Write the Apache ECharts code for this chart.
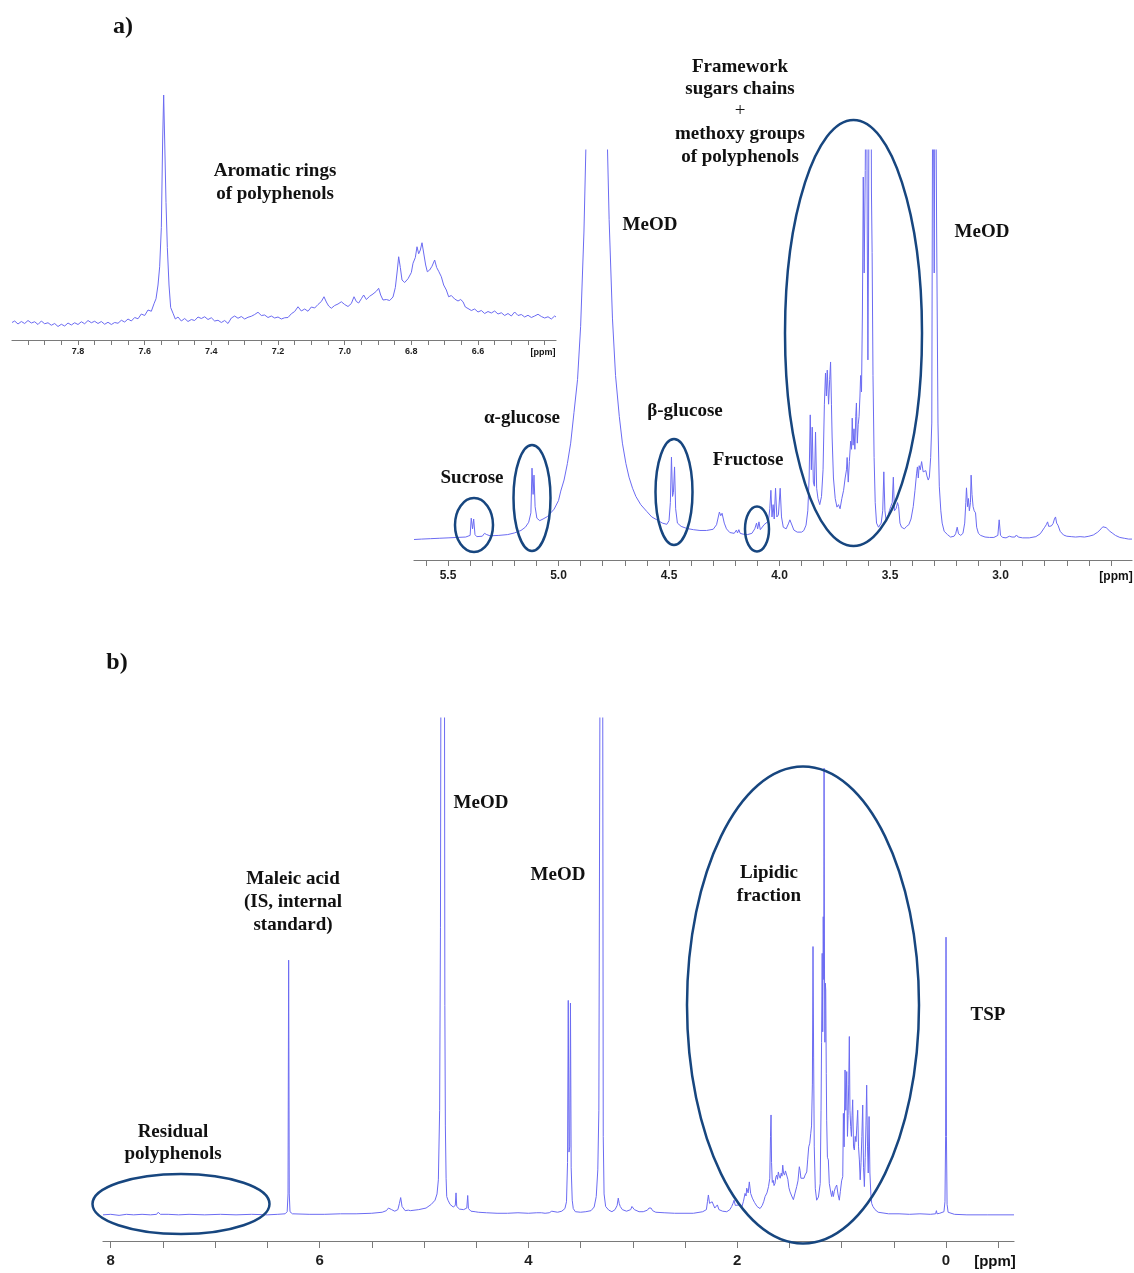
<!DOCTYPE html>
<html>
<head>
<meta charset="utf-8">
<script src="https://cdn.jsdelivr.net/npm/echarts@6.0.0/dist/echarts.min.js"></script>
<style>
html, body { margin: 0; padding: 0; background: #fff; }
#chart { width: 1134px; height: 1273px; }
</style>
</head>
<body>
<div id="chart"></div>
<script>
// inset: aromatic region, [ppm, intensity]
var insetSpec = [
 [7.998,7.0],[7.99,7.6],[7.98,6.4],[7.97,7.4],[7.96,6.6],[7.95,7.8],[7.94,6.8],[7.93,7.3],[7.92,6.2],[7.91,7.6],
 [7.90,6.5],[7.89,6.9],[7.88,5.9],[7.87,6.6],[7.86,5.4],[7.85,6.3],[7.84,5.6],[7.83,6.8],[7.82,6.0],[7.81,6.9],
 [7.80,6.2],[7.79,7.3],[7.78,6.5],[7.77,7.8],[7.76,6.9],[7.75,7.5],[7.74,6.6],[7.73,7.4],[7.72,6.3],[7.71,7.1],
 [7.70,6.2],[7.69,7.0],[7.68,6.7],[7.67,7.9],[7.66,7.2],[7.65,8.4],[7.64,7.6],[7.63,9.0],[7.62,8.5],[7.61,10.4],
 [7.60,9.8],[7.59,12.0],[7.58,11.5],[7.572,14.5],[7.566,16.5],[7.56,22],[7.555,29.3],[7.55,45],[7.546,80],[7.543,98],
 [7.54,80],[7.536,55],[7.532,37],[7.527,22],[7.522,13],[7.515,10.7],[7.508,8.4],[7.50,9.2],[7.49,7.6],[7.48,8.6],
 [7.47,7.4],[7.46,8.2],[7.45,7.8],[7.44,9.2],[7.43,8.6],[7.42,9.3],[7.41,8.2],[7.40,8.9],[7.39,7.6],[7.38,7.9],
 [7.37,7.0],[7.36,7.8],[7.35,6.6],[7.34,8.8],[7.33,9.6],[7.32,8.7],[7.31,9.4],[7.30,8.4],[7.29,9.1],[7.28,9.5],
 [7.27,10.2],[7.26,11.1],[7.25,9.8],[7.24,10.0],[7.23,9.0],[7.22,9.6],[7.21,8.8],[7.20,9.2],[7.19,8.4],[7.18,8.9],
 [7.17,9.0],[7.16,10.5],[7.15,11.4],[7.14,13.3],[7.13,11.6],[7.12,12.4],[7.11,11.5],[7.10,13.2],[7.09,12.8],[7.08,14.2],
 [7.07,15.4],[7.062,17.3],[7.055,15.2],[7.048,13.6],[7.04,12.7],[7.03,13.8],[7.02,14.4],[7.01,15.3],[7.00,14.2],[6.99,13.4],
 [6.98,14.6],[6.972,17.3],[6.965,15.4],[6.958,14.8],[6.95,16.5],[6.943,18.0],[6.935,16.2],[6.925,17.5],[6.915,18.4],[6.905,19.5],
 [6.898,20.7],[6.892,18],[6.885,16.0],[6.875,16.2],[6.865,15.8],[6.855,17.2],[6.848,21],[6.842,28],[6.838,33.3],[6.833,29],
 [6.828,24],[6.82,23],[6.81,24.5],[6.80,27],[6.795,30.7],[6.788,33],[6.783,37.3],[6.778,34.5],[6.773,36],[6.768,38.9],
 [6.762,34],[6.757,30],[6.752,27.3],[6.745,28],[6.738,29.5],[6.73,32],[6.724,29],[6.718,27.5],[6.71,25.3],[6.703,22],
 [6.695,20],[6.688,17.3],[6.68,17.8],[6.67,16.4],[6.66,15.6],[6.652,16.2],[6.645,15.3],[6.638,13.2],[6.63,12.6],[6.62,11.8],
 [6.61,12.4],[6.60,11.2],[6.59,11.8],[6.58,10.6],[6.57,11.4],[6.56,10.8],[6.55,11.6],[6.54,10.4],[6.53,10.9],[6.52,9.8],
 [6.51,10.6],[6.50,9.6],[6.49,11.2],[6.48,9.8],[6.47,10.2],[6.46,9.2],[6.45,9.9],[6.44,9.0],[6.43,9.6],[6.42,10.3],
 [6.41,9.4],[6.40,8.8],[6.39,9.3],[6.38,8.4],[6.37,9.6],[6.366,9.2]
];

// panel a: sugar region
var specA = [
 [5.654,5.0],[5.62,5.1],[5.58,5.2],[5.54,5.3],[5.50,5.4],[5.46,5.5],[5.42,5.6],[5.40,6.0],[5.395,10.2],[5.389,7.6],
 [5.384,10.0],[5.378,6.2],[5.37,5.7],[5.345,5.8],[5.335,6.5],[5.325,6.2],[5.31,5.9],[5.27,6.0],[5.23,6.2],[5.20,6.6],
 [5.17,7.2],[5.15,8.0],[5.135,9.2],[5.125,11.5],[5.12,22.4],[5.115,16.0],[5.111,20.7],[5.106,13.0],[5.098,10.2],[5.085,9.6],
 [5.07,10.0],[5.05,10.6],[5.035,11.5],[5.02,12.4],[5.00,14.5],[4.99,16.8],[4.975,19.5],[4.96,23.5],[4.945,28.5],[4.93,36],
 [4.914,44],[4.90,57],[4.885,80],[4.87,115],[4.85,200],[4.828,300],[4.80,170],[4.786,118],[4.771,83],[4.756,59],
 [4.742,45],[4.725,35],[4.711,28.5],[4.695,23.5],[4.681,20.2],[4.665,17.5],[4.65,15.5],[4.628,13.5],[4.60,11.8],[4.578,10.5],
 [4.555,9.8],[4.53,9.0],[4.51,8.7],[4.50,9.6],[4.494,14],[4.489,25.1],[4.484,15.5],[4.480,16.5],[4.475,22.7],[4.470,12.5],
 [4.462,9.0],[4.445,8.2],[4.42,7.7],[4.39,7.4],[4.36,7.2],[4.33,7.2],[4.30,7.5],[4.285,8.6],[4.272,11.7],[4.266,10.8],
 [4.26,11.4],[4.25,9.0],[4.24,7.6],[4.225,6.7],[4.205,6.5],[4.195,7.3],[4.19,6.6],[4.184,7.4],[4.178,6.5],[4.165,6.3],
 [4.145,6.2],[4.125,6.5],[4.112,7.6],[4.104,9.0],[4.099,7.6],[4.093,9.3],[4.087,7.4],[4.078,7.0],[4.07,8.6],[4.062,8.8],
 [4.05,9.5],[4.044,12.5],[4.039,17.0],[4.034,10.5],[4.029,13.5],[4.024,10.0],[4.018,17.5],[4.012,10.5],[4.005,11.0],[3.997,17.5],
 [3.991,10.5],[3.983,8.0],[3.97,7.6],[3.96,8.8],[3.953,9.8],[3.945,9.4],[3.935,7.3],[3.92,6.8],[3.90,6.8],[3.89,7.2],
 [3.88,8.5],[3.872,12],[3.866,20],[3.861,35.4],[3.856,22],[3.852,32.4],[3.847,19],[3.842,18],[3.837,31.2],[3.832,17.5],
 [3.826,15],[3.818,13.5],[3.81,15.5],[3.803,22],[3.797,38],[3.792,45.6],[3.788,40],[3.784,46.3],[3.778,38],[3.773,44],
 [3.769,48.3],[3.765,38],[3.762,30],[3.756,20],[3.748,15],[3.74,12.9],[3.733,13.5],[3.726,12.5],[3.718,15],[3.71,17],
 [3.703,20],[3.697,22],[3.694,25],[3.689,19],[3.684,24],[3.678,29],[3.674,27],[3.671,34.6],[3.667,28],[3.663,32],
 [3.659,27],[3.655,35],[3.652,38.3],[3.648,28.5],[3.644,33],[3.64,35],[3.636,40],[3.633,45],[3.629,41],[3.625,60],
 [3.621,93.4],[3.617,70],[3.612,95],[3.607,140],[3.603,80],[3.600,48.8],[3.597,80],[3.594,140],[3.590,130],[3.587,140],
 [3.584,90],[3.581,75],[3.577,45],[3.572,25],[3.567,14],[3.561,9],[3.552,8],[3.54,9],[3.533,12],[3.528,21.5],
 [3.523,12],[3.518,9.8],[3.51,10.5],[3.503,12],[3.497,13],[3.49,14],[3.485,20.2],[3.48,12],[3.472,12.6],[3.466,14],
 [3.461,13],[3.455,9],[3.448,8],[3.435,7.6],[3.425,8.2],[3.415,8.6],[3.405,10],[3.395,13],[3.387,17],[3.38,21],
 [3.376,22.7],[3.372,20],[3.368,23],[3.363,22],[3.357,24],[3.354,24.4],[3.35,21.5],[3.344,21.2],[3.338,21.8],[3.333,20.5],
 [3.327,19.5],[3.322,20.2],[3.316,25],[3.311,33.4],[3.306,140],[3.300,70],[3.295,140],[3.289,80],[3.283,33.4],[3.277,18],
 [3.27,12],[3.264,9],[3.255,7],[3.24,6.2],[3.226,5.6],[3.21,5.8],[3.203,6.4],[3.196,8.0],[3.19,6.4],[3.18,6.0],
 [3.17,6.5],[3.162,9],[3.157,14],[3.154,17.6],[3.149,13],[3.145,15],[3.141,12],[3.136,14],[3.133,20.7],[3.129,16],
 [3.124,13],[3.119,12],[3.113,11.5],[3.108,8],[3.10,6.5],[3.09,6.0],[3.07,5.6],[3.05,5.5],[3.03,5.5],[3.012,6.0],
 [3.006,9.8],[3.0,6.0],[2.99,5.5],[2.975,5.4],[2.96,5.8],[2.955,6.0],[2.948,5.6],[2.935,5.6],[2.928,6.1],[2.92,5.6],
 [2.90,5.4],[2.87,5.4],[2.84,5.7],[2.82,6.4],[2.80,8.0],[2.793,8.6],[2.787,9.3],[2.782,8.2],[2.776,8.6],[2.77,8.3],
 [2.762,8.9],[2.756,10.0],[2.751,10.5],[2.746,9.0],[2.74,8.5],[2.73,7.0],[2.715,6.1],[2.70,5.8],[2.68,5.7],[2.66,5.6],
 [2.64,5.7],[2.62,5.6],[2.60,5.8],[2.58,6.1],[2.56,6.8],[2.545,7.6],[2.537,8.1],[2.533,7.8],[2.528,8.5],[2.522,7.9],
 [2.515,7.7],[2.505,7.0],[2.495,6.6],[2.48,6.0],[2.46,5.5],[2.44,5.3],[2.42,5.1],[2.405,5.1]
];

// panel b: full spectrum
var specB = [
 [8.074,5.0],[8.0,5.1],[7.92,4.9],[7.85,5.1],[7.78,5.0],[7.70,5.1],[7.62,5.0],[7.56,5.1],[7.545,5.5],[7.535,5.6],
 [7.525,5.1],[7.45,5.1],[7.35,5.0],[7.25,5.1],[7.10,5.0],[6.95,5.1],[6.80,5.0],[6.65,5.1],[6.50,5.0],[6.40,5.1],
 [6.33,5.2],[6.31,5.6],[6.302,9],[6.296,53.7],[6.29,9],[6.283,5.6],[6.26,5.2],[6.10,5.1],[5.95,5.1],[5.80,5.2],
 [5.65,5.2],[5.50,5.3],[5.40,5.5],[5.36,5.8],[5.34,6.3],[5.325,6.6],[5.31,6.0],[5.28,5.7],[5.25,6.0],[5.235,7.2],
 [5.223,8.3],[5.21,6.6],[5.18,5.8],[5.15,5.9],[5.14,6.2],[5.13,5.8],[5.05,6.0],[4.98,6.3],[4.93,7.0],[4.894,7.8],
 [4.875,9.0],[4.862,11.7],[4.85,25],[4.842,60],[4.835,140],[4.805,140],[4.80,45],[4.795,22],[4.788,12],[4.782,8.5],
 [4.77,7.8],[4.75,7.0],[4.72,6.5],[4.70,6.8],[4.693,9.2],[4.686,6.6],[4.66,6.1],[4.62,6.0],[4.59,6.3],[4.581,8.7],
 [4.574,6.2],[4.55,5.7],[4.51,5.6],[4.495,5.9],[4.48,5.5],[4.40,5.4],[4.30,5.3],[4.20,5.3],[4.10,5.4],[4.00,5.3],
 [3.92,5.4],[3.875,5.4],[3.857,5.7],[3.84,5.3],[3.80,5.4],[3.776,5.7],[3.76,5.4],[3.72,5.5],[3.68,5.7],[3.65,6.2],
 [3.635,7.5],[3.625,15],[3.618,46],[3.611,17],[3.604,18],[3.597,45.5],[3.59,14],[3.58,7.8],[3.57,6.2],[3.55,5.6],
 [3.50,5.5],[3.45,5.6],[3.40,5.8],[3.37,6.5],[3.35,8.5],[3.335,13.6],[3.325,25],[3.31,140],[3.29,140],[3.283,20],
 [3.275,9],[3.26,6.6],[3.23,5.9],[3.20,5.6],[3.17,6.0],[3.15,6.8],[3.139,8.2],[3.13,7.2],[3.12,6.6],[3.10,6.0],
 [3.06,5.7],[3.02,6.0],[3.008,6.6],[3.0,6.3],[2.985,6.0],[2.97,5.9],[2.94,5.6],[2.90,5.6],[2.86,5.9],[2.845,6.3],
 [2.835,6.0],[2.825,6.3],[2.81,5.8],[2.78,5.5],[2.70,5.4],[2.60,5.3],[2.50,5.3],[2.42,5.3],[2.33,5.6],[2.295,6.0],
 [2.285,7.5],[2.276,8.8],[2.265,7.2],[2.254,6.9],[2.24,7.5],[2.229,7.2],[2.215,6.3],[2.205,6.4],[2.19,6.9],[2.175,6.0],
 [2.14,5.7],[2.10,5.6],[2.07,6.0],[2.053,6.6],[2.04,7.2],[2.03,7.8],[2.018,6.8],[2.005,6.6],[1.98,6.9],[1.957,6.4],
 [1.94,7.6],[1.925,9.1],[1.915,8.6],[1.909,10.1],[1.895,9.2],[1.884,11.3],[1.871,9.1],[1.855,8.2],[1.835,7.4],[1.81,6.6],
 [1.781,6.2],[1.76,6.8],[1.745,7.6],[1.733,8.5],[1.715,9.2],[1.70,10.4],[1.688,12],[1.681,20],[1.676,24.1],[1.671,15],
 [1.664,11.2],[1.655,11.6],[1.647,10.6],[1.638,11.0],[1.63,12.2],[1.622,12.6],[1.614,11.8],[1.606,13.2],[1.597,12.4],[1.588,12.0],
 [1.578,13.0],[1.571,12.4],[1.564,14.5],[1.556,13.0],[1.547,12.6],[1.538,13.4],[1.526,13.6],[1.515,11.8],[1.505,10.2],[1.494,9.4],
 [1.478,8.6],[1.462,7.9],[1.448,9.0],[1.43,10.4],[1.418,11.5],[1.405,14.2],[1.398,13.5],[1.39,12.0],[1.38,11.7],[1.373,12.3],
 [1.36,12.0],[1.35,12.6],[1.334,13.2],[1.325,15.5],[1.315,18],[1.305,18.7],[1.296,20.5],[1.288,22],[1.280,30],[1.274,56.3],
 [1.268,35],[1.262,18],[1.252,10],[1.239,7.8],[1.232,8.0],[1.222,8.4],[1.213,8.5],[1.205,11],[1.197,25],[1.192,38],
 [1.186,55],[1.181,40],[1.176,62],[1.171,50],[1.168,90.4],[1.164,52],[1.160,38],[1.156,49.3],[1.152,48],[1.147,32],
 [1.143,23.1],[1.136,16],[1.127,15.5],[1.118,11],[1.111,11],[1.103,9.2],[1.095,8.5],[1.087,9.6],[1.079,8.5],[1.07,9.5],
 [1.06,10.2],[1.047,10.7],[1.035,9.0],[1.022,7.8],[1.012,9.5],[1.0,11.5],[0.989,12.3],[0.983,24.4],[0.976,18],[0.967,32.7],
 [0.96,25],[0.951,32.4],[0.944,20],[0.938,24],[0.932,30],[0.926,39.1],[0.92,25],[0.913,21.9],[0.906,20],[0.9,24],
 [0.894,27],[0.886,18],[0.878,17.4],[0.87,20],[0.862,19],[0.854,22],[0.846,25],[0.838,18],[0.83,15.5],[0.822,11.7],
 [0.814,15],[0.806,20],[0.798,26],[0.79,14],[0.782,10.4],[0.774,16],[0.767,22],[0.76,29.8],[0.752,18],[0.745,13],
 [0.737,23.8],[0.729,13],[0.72,9],[0.712,7.2],[0.70,6.6],[0.69,6.8],[0.68,6.0],[0.67,5.9],[0.65,5.5],[0.632,5.3],
 [0.55,5.2],[0.45,5.2],[0.35,5.1],[0.25,5.2],[0.15,5.1],[0.10,5.2],[0.092,5.8],[0.086,5.2],[0.06,5.3],[0.02,5.6],
 [0.01,7.5],[0.004,20],[0.0,58.1],[-0.004,20],[-0.01,7],[-0.02,5.5],[-0.08,5.1],[-0.2,5.0],[-0.4,5.0],[-0.651,5.0]
];

// axis ticks and labels (ppm)
var insetTicks = [7.95,7.9,7.85,7.8,7.75,7.7,7.65,7.6,7.55,7.5,7.45,7.4,7.35,7.3,7.25,7.2,7.15,7.1,7.05,7.0,6.95,6.9,6.85,6.8,6.75,6.7,6.65,6.6,6.55,6.5,6.45,6.4];
var insetLabels = [7.8,7.6,7.4,7.2,7.0,6.8,6.6];
var aTicks = [5.6,5.5,5.4,5.3,5.2,5.1,5.0,4.9,4.8,4.7,4.6,4.5,4.4,4.3,4.2,4.1,4.0,3.9,3.8,3.7,3.6,3.5,3.4,3.3,3.2,3.1,3.0,2.9,2.8,2.7,2.6,2.5];
var aLabels = [5.5,5.0,4.5,4.0,3.5,3.0];
var bTicks = [8,7.5,7,6.5,6,5.5,5,4.5,4,3.5,3,2.5,2,1.5,1,0.5,0,-0.5];
var bLabels = [8,6,4,2,0];

var LINE_COLOR = '#6b6bf2';
var RING_COLOR = '#17467f';
var AXIS_COLOR = '#7a7a7a';
var SERIF = '"Liberation Serif", "Times New Roman", serif';
var SANS = '"Liberation Sans", Arial, sans-serif';

function makeXAxis(idx, min, max, ticks, labels, digits, fontSize, margin, tickLen){
    return {
        gridIndex: idx, type: 'value', min: min, max: max, inverse: true,
        axisLine: { show: true, onZero: false, lineStyle: { color: AXIS_COLOR, width: 1.2 } },
        axisTick: { show: true, customValues: ticks, length: tickLen, lineStyle: { color: AXIS_COLOR, width: 1 } },
        axisLabel: {
            customValues: labels, margin: margin,
            fontSize: fontSize, fontWeight: 'bold', fontFamily: SANS, color: '#1e1e1e',
            formatter: function(v){ return v.toFixed(digits); }
        },
        splitLine: { show: false }
    };
}

function makeYAxis(idx){
    return { gridIndex: idx, type: 'value', min: 0, max: 100, show: false };
}

function makeSeries(idx, data){
    return {
        type: 'line', xAxisIndex: idx, yAxisIndex: idx, data: data,
        showSymbol: false, symbol: 'none', clip: true, silent: true,
        lineStyle: { color: LINE_COLOR, width: 1 }
    };
}

/**
 * text label
 */
function txt(s, x, y, size, weight, family){
    return {
        type: 'text', z: 100,
        style: {
            text: s, x: x, y: y,
            font: (weight || 'bold') + ' ' + size + 'px ' + (family || SERIF),
            fill: '#111', textAlign: 'center', align: 'center',
            textVerticalAlign: 'middle', verticalAlign: 'middle'
        }
    };
}

function ring(cx, cy, rx, ry){
    return {
        type: 'ellipse', z: 100,
        shape: { cx: cx, cy: cy, rx: rx, ry: ry },
        style: { fill: 'none', stroke: RING_COLOR, lineWidth: 2.5 }
    };
}

var chart = echarts.init(document.getElementById('chart'), null, { renderer: 'canvas' });

chart.setOption({
    backgroundColor: '#fff',
    animation: false,
    grid: [
        { left: 12, top: 90, width: 544, height: 250 },
        { left: 414, top: 150, width: 718, height: 410 },
        { left: 103, top: 718, width: 911, height: 523 }
    ],
    xAxis: [
        makeXAxis(0, 6.366, 7.998, insetTicks, insetLabels, 1, 9, 7, 5),
        makeXAxis(1, 2.405, 5.654, aTicks, aLabels, 1, 12, 10, 6),
        makeXAxis(2, -0.651, 8.074, bTicks, bLabels, 0, 15, 12, 7)
    ],
    yAxis: [makeYAxis(0), makeYAxis(1), makeYAxis(2)],
    series: [
        makeSeries(0, insetSpec),
        makeSeries(1, specA),
        makeSeries(2, specB)
    ],
    graphic: [
        // panel a
        txt('a)', 123, 27, 24),
        txt('Aromatic rings', 275, 171, 19),
        txt('of polyphenols', 275, 194, 19),
        txt('[ppm]', 543, 353, 9, 'bold', SANS),
        txt('Framework', 740, 67, 19),
        txt('sugars chains', 740, 89, 19),
        txt('+', 740, 111, 19, 'normal'),
        txt('methoxy groups', 740, 134, 19),
        txt('of polyphenols', 740, 157, 19),
        txt('MeOD', 650, 225, 19),
        txt('MeOD', 982, 232, 19),
        txt('\u03b1-glucose', 522, 418, 19),
        txt('Sucrose', 472, 478, 19),
        txt('\u03b2-glucose', 685, 411, 19),
        txt('Fructose', 748, 460, 19),
        txt('[ppm]', 1116, 577, 12, 'bold', SANS),
        ring(474, 525, 19, 27),
        ring(532, 498, 18.5, 53),
        ring(674, 492, 18.5, 53),
        ring(757, 529, 12, 22.5),
        ring(853.5, 333, 68.5, 213),
        // panel b
        txt('b)', 117, 663, 24),
        txt('MeOD', 481, 803, 19),
        txt('MeOD', 558, 875, 19),
        txt('Maleic acid', 293, 879, 19),
        txt('(IS, internal', 293, 902, 19),
        txt('standard)', 293, 925, 19),
        txt('Lipidic', 769, 873, 19),
        txt('fraction', 769, 896, 19),
        txt('TSP', 988, 1015, 19),
        txt('Residual', 173, 1132, 19),
        txt('polyphenols', 173, 1154, 19),
        txt('[ppm]', 995, 1262, 15, 'bold', SANS),
        ring(181, 1204, 88.5, 30),
        ring(803, 1005, 116, 238.5)
    ]
});
</script>
</body>
</html>
